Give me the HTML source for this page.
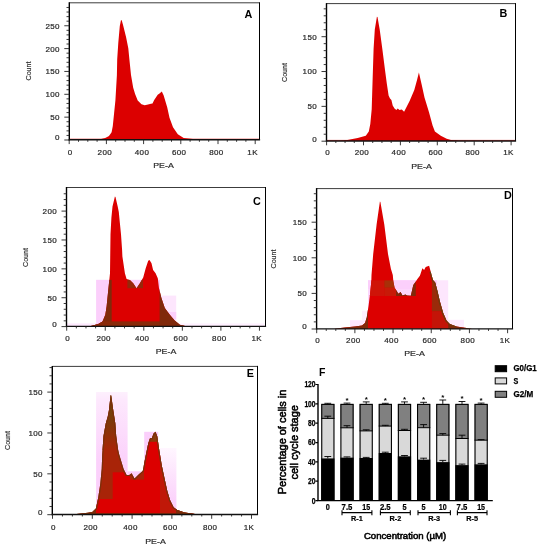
<!DOCTYPE html>
<html lang="en">
<head>
<meta charset="utf-8">
<title>Cell cycle analysis</title>
<style>
html,body{margin:0;padding:0;background:#fff;}
body{width:542px;height:550px;overflow:hidden;}
svg{display:block;font-family:"Liberation Sans",sans-serif;}
</style>
</head>
<body>
<svg width="542" height="550" viewBox="0 0 542 550">
<defs>
<clipPath id="cC"><polygon points="90.0,326.2 98.3,323.9 102.5,321.4 105.3,314.8 106.6,306.4 108.3,289.8 110.0,273.2 110.3,250.0 110.5,234.3 111.4,217.7 112.5,206.6 114.9,196.6 115.5,197.0 117.7,206.6 118.8,212.1 119.9,223.2 121.0,234.3 122.1,250.0 122.4,256.6 124.9,273.2 126.6,279.0 129.9,279.9 133.2,283.2 136.5,288.2 139.9,283.2 143.2,277.4 145.7,268.2 148.2,260.8 149.5,260.0 151.5,263.3 153.1,269.9 155.6,273.2 157.8,278.2 159.0,288.2 161.4,298.1 164.8,308.1 169.8,314.8 174.7,320.6 179.7,324.7 186.0,326.2"/></clipPath>
<clipPath id="cD"><polygon points="334.0,328.7 345.0,327.6 355.0,326.6 362.0,325.4 365.0,323.1 366.8,317.2 368.6,305.4 370.1,293.6 371.3,281.8 371.5,275.0 373.2,254.0 376.6,224.5 379.9,201.6 380.4,202.0 384.3,224.5 388.0,254.0 390.9,268.8 392.8,275.0 393.4,281.8 394.6,287.7 396.9,291.3 398.3,293.8 400.6,291.9 402.5,295.4 405.5,294.4 407.0,295.6 410.8,295.7 413.3,284.9 415.8,281.6 417.4,279.1 419.9,275.8 422.4,268.3 424.1,270.0 425.7,267.0 429.1,265.8 430.7,271.6 432.9,279.9 435.2,282.4 437.4,290.7 439.9,301.5 443.2,313.1 446.5,320.6 449.8,323.9 456.5,326.4 464.8,327.8 472.0,328.7"/></clipPath>
<clipPath id="cE"><polygon points="72.0,514.4 88.0,512.8 92.3,512.0 95.9,508.4 98.1,498.2 100.3,483.7 101.7,469.1 102.2,455.0 103.5,436.0 105.8,423.2 107.7,416.8 108.9,410.5 110.6,395.2 111.2,395.5 113.3,410.5 115.3,423.2 116.2,436.0 117.9,448.7 119.2,454.6 121.4,461.8 123.6,469.1 126.5,474.9 129.4,474.9 131.6,473.2 134.5,478.6 138.9,474.2 142.7,470.9 145.5,456.4 148.2,443.6 150.0,438.2 151.8,438.2 153.6,433.6 155.5,431.8 157.3,436.4 159.1,449.1 161.8,465.5 164.5,478.2 167.3,490.9 170.0,500.0 173.6,507.3 177.3,510.0 184.5,512.4 191.8,513.5 198.0,514.4"/></clipPath>
<linearGradient id="gP" x1="0" y1="0" x2="0" y2="1"><stop offset="0" stop-color="#fdf0fd"/><stop offset="0.07" stop-color="#fde8fd"/><stop offset="0.55" stop-color="#fbd2fb"/><stop offset="1" stop-color="#fbcefb"/></linearGradient>
<linearGradient id="gP2" x1="0" y1="0" x2="0" y2="1"><stop offset="0" stop-color="#fff6ff"/><stop offset="0.35" stop-color="#fde6fd"/><stop offset="0.8" stop-color="#fbd2fb"/></linearGradient>
<linearGradient id="gE" x1="0" y1="0" x2="0" y2="1"><stop offset="0.08" stop-color="#66480c"/><stop offset="0.5" stop-color="#7c3a0a"/><stop offset="1" stop-color="#a82408"/></linearGradient>
</defs>
<rect x="0" y="0" width="542" height="550" fill="#fff"/>
<polygon points="94.0,139.6 100.0,139.2 105.2,138.0 109.0,136.1 111.6,132.3 112.8,126.0 114.1,113.2 115.4,100.5 116.9,75.0 117.2,59.4 118.3,42.7 119.8,26.0 121.0,20.0 121.8,20.4 123.3,26.0 126.1,37.2 128.3,48.3 129.4,59.4 131.0,75.0 133.2,87.7 135.1,94.1 137.7,100.5 141.5,104.3 144.7,105.3 147.0,104.8 151.0,103.7 152.5,103.4 154.2,100.0 157.7,94.8 159.5,93.5 161.8,91.5 163.6,95.3 167.2,107.2 169.5,117.8 173.0,127.2 177.8,134.3 183.7,137.9 193.0,139.0 202.0,139.6" fill="#dc0000"/>
<line x1="70" y1="139.2" x2="260" y2="139.2" stroke="#dc0000" stroke-width="0.8"/>
<line x1="69.3" y1="2.8" x2="259.5" y2="2.8" stroke="#3c3c3c" stroke-width="1"/>
<line x1="259.5" y1="2.3" x2="259.5" y2="139.8" stroke="#000" stroke-width="1.05"/>
<line x1="69.3" y1="2.3" x2="69.3" y2="140.5" stroke="#000" stroke-width="1.4"/>
<line x1="68.7" y1="139.8" x2="260.1" y2="139.8" stroke="#111" stroke-width="1.4"/>
<path d="M69.20,139.8v4.3M78.50,139.8v2.0M87.80,139.8v2.0M97.10,139.8v2.0M106.40,139.8v4.3M115.70,139.8v2.0M125.00,139.8v2.0M134.30,139.8v2.0M143.60,139.8v4.3M152.90,139.8v2.0M162.20,139.8v2.0M171.50,139.8v2.0M180.80,139.8v4.3M190.10,139.8v2.0M199.40,139.8v2.0M208.70,139.8v2.0M218.00,139.8v4.3M227.30,139.8v2.0M236.60,139.8v2.0M245.90,139.8v2.0M255.20,139.8v4.3" stroke="#222" stroke-width="0.9" fill="none"/>
<text x="70.2" y="155.1" font-size="8" text-anchor="middle" fill="#2a2a2a" letter-spacing="0.35" stroke="#2a2a2a" stroke-width="0.22">0</text>
<text x="104.8" y="155.1" font-size="8" text-anchor="middle" fill="#2a2a2a" letter-spacing="0.35" stroke="#2a2a2a" stroke-width="0.22">200</text>
<text x="142.0" y="155.1" font-size="8" text-anchor="middle" fill="#2a2a2a" letter-spacing="0.35" stroke="#2a2a2a" stroke-width="0.22">400</text>
<text x="179.2" y="155.1" font-size="8" text-anchor="middle" fill="#2a2a2a" letter-spacing="0.35" stroke="#2a2a2a" stroke-width="0.22">600</text>
<text x="216.4" y="155.1" font-size="8" text-anchor="middle" fill="#2a2a2a" letter-spacing="0.35" stroke="#2a2a2a" stroke-width="0.22">800</text>
<text x="252.6" y="155.1" font-size="8" text-anchor="middle" fill="#2a2a2a" letter-spacing="0.35" stroke="#2a2a2a" stroke-width="0.22">1K</text>
<path d="M69.3,140.00h-5.0M69.3,135.43h-2.8M69.3,130.86h-2.8M69.3,126.29h-2.8M69.3,121.72h-2.8M69.3,117.15h-5.0M69.3,112.58h-2.8M69.3,108.01h-2.8M69.3,103.44h-2.8M69.3,98.87h-2.8M69.3,94.30h-5.0M69.3,89.73h-2.8M69.3,85.16h-2.8M69.3,80.59h-2.8M69.3,76.02h-2.8M69.3,71.45h-5.0M69.3,66.88h-2.8M69.3,62.31h-2.8M69.3,57.74h-2.8M69.3,53.17h-2.8M69.3,48.60h-5.0M69.3,44.03h-2.8M69.3,39.46h-2.8M69.3,34.89h-2.8M69.3,30.32h-2.8M69.3,25.75h-5.0M69.3,21.18h-2.8M69.3,16.61h-2.8M69.3,12.04h-2.8M69.3,7.47h-2.8" stroke="#222" stroke-width="0.9" fill="none"/>
<text x="59.8" y="140.3" font-size="8" text-anchor="end" fill="#2a2a2a" letter-spacing="0.35" stroke="#2a2a2a" stroke-width="0.22">0</text>
<text x="59.8" y="120.1" font-size="8" text-anchor="end" fill="#2a2a2a" letter-spacing="0.35" stroke="#2a2a2a" stroke-width="0.22">50</text>
<text x="59.8" y="97.2" font-size="8" text-anchor="end" fill="#2a2a2a" letter-spacing="0.35" stroke="#2a2a2a" stroke-width="0.22">100</text>
<text x="59.8" y="74.4" font-size="8" text-anchor="end" fill="#2a2a2a" letter-spacing="0.35" stroke="#2a2a2a" stroke-width="0.22">150</text>
<text x="59.8" y="51.5" font-size="8" text-anchor="end" fill="#2a2a2a" letter-spacing="0.35" stroke="#2a2a2a" stroke-width="0.22">200</text>
<text x="59.8" y="28.6" font-size="8" text-anchor="end" fill="#2a2a2a" letter-spacing="0.35" stroke="#2a2a2a" stroke-width="0.22">250</text>
<text x="30.9" y="71.0" font-size="7.5" text-anchor="middle" fill="#2a2a2a" textLength="19.0" lengthAdjust="spacingAndGlyphs" transform="rotate(-90 30.9 71.0)" stroke="#2a2a2a" stroke-width="0.15">Count</text>
<text x="163.5" y="168.3" font-size="8" text-anchor="middle" fill="#2a2a2a" textLength="20.5" lengthAdjust="spacingAndGlyphs" stroke="#2a2a2a" stroke-width="0.2">PE-A</text>
<text x="248.4" y="17.5" font-size="10.8" text-anchor="middle" fill="#000" font-weight="bold">A</text>
<polygon points="340.0,141.0 347.4,140.0 357.7,138.0 365.8,135.8 368.8,131.4 370.3,124.0 371.7,109.3 372.6,80.0 373.6,48.8 374.8,29.4 376.9,16.7 377.5,17.0 379.7,29.4 382.3,48.8 385.0,70.0 386.8,83.6 388.6,95.5 390.0,98.6 391.4,100.0 392.7,105.5 394.5,108.6 396.4,110.0 397.7,108.6 399.5,110.0 401.8,109.5 404.1,111.8 406.8,106.4 409.6,101.0 414.3,90.0 417.1,79.8 418.9,72.4 421.6,84.2 424.5,97.5 429.0,112.2 432.6,125.5 434.9,131.4 440.8,135.8 446.7,138.8 451.0,140.0 460.0,141.0" fill="#dc0000"/>
<line x1="327" y1="140.4" x2="516" y2="140.4" stroke="#dc0000" stroke-width="0.8"/>
<line x1="326.5" y1="3.6" x2="515.5" y2="3.6" stroke="#3c3c3c" stroke-width="1"/>
<line x1="515.5" y1="3.1" x2="515.5" y2="141" stroke="#000" stroke-width="1.05"/>
<line x1="326.5" y1="3.1" x2="326.5" y2="141.7" stroke="#000" stroke-width="1.4"/>
<line x1="325.9" y1="141" x2="516.1" y2="141" stroke="#111" stroke-width="1.4"/>
<path d="M326.60,141v4.3M335.83,141v2.0M345.05,141v2.0M354.28,141v2.0M363.50,141v4.3M372.73,141v2.0M381.95,141v2.0M391.18,141v2.0M400.40,141v4.3M409.62,141v2.0M418.85,141v2.0M428.08,141v2.0M437.30,141v4.3M446.53,141v2.0M455.75,141v2.0M464.98,141v2.0M474.20,141v4.3M483.43,141v2.0M492.65,141v2.0M501.88,141v2.0M511.10,141v4.3" stroke="#222" stroke-width="0.9" fill="none"/>
<text x="327.6" y="155.3" font-size="8" text-anchor="middle" fill="#2a2a2a" letter-spacing="0.35" stroke="#2a2a2a" stroke-width="0.22">0</text>
<text x="361.9" y="155.3" font-size="8" text-anchor="middle" fill="#2a2a2a" letter-spacing="0.35" stroke="#2a2a2a" stroke-width="0.22">200</text>
<text x="398.8" y="155.3" font-size="8" text-anchor="middle" fill="#2a2a2a" letter-spacing="0.35" stroke="#2a2a2a" stroke-width="0.22">400</text>
<text x="435.7" y="155.3" font-size="8" text-anchor="middle" fill="#2a2a2a" letter-spacing="0.35" stroke="#2a2a2a" stroke-width="0.22">600</text>
<text x="472.6" y="155.3" font-size="8" text-anchor="middle" fill="#2a2a2a" letter-spacing="0.35" stroke="#2a2a2a" stroke-width="0.22">800</text>
<text x="508.5" y="155.3" font-size="8" text-anchor="middle" fill="#2a2a2a" letter-spacing="0.35" stroke="#2a2a2a" stroke-width="0.22">1K</text>
<path d="M326.5,141.20h-5.0M326.5,134.23h-2.8M326.5,127.27h-2.8M326.5,120.30h-2.8M326.5,113.33h-2.8M326.5,106.37h-5.0M326.5,99.40h-2.8M326.5,92.43h-2.8M326.5,85.47h-2.8M326.5,78.50h-2.8M326.5,71.53h-5.0M326.5,64.57h-2.8M326.5,57.60h-2.8M326.5,50.63h-2.8M326.5,43.67h-2.8M326.5,36.70h-5.0M326.5,29.73h-2.8M326.5,22.77h-2.8M326.5,15.80h-2.8M326.5,8.83h-2.8" stroke="#222" stroke-width="0.9" fill="none"/>
<text x="317.0" y="141.5" font-size="8" text-anchor="end" fill="#2a2a2a" letter-spacing="0.35" stroke="#2a2a2a" stroke-width="0.22">0</text>
<text x="317.0" y="109.3" font-size="8" text-anchor="end" fill="#2a2a2a" letter-spacing="0.35" stroke="#2a2a2a" stroke-width="0.22">50</text>
<text x="317.0" y="74.4" font-size="8" text-anchor="end" fill="#2a2a2a" letter-spacing="0.35" stroke="#2a2a2a" stroke-width="0.22">100</text>
<text x="317.0" y="39.6" font-size="8" text-anchor="end" fill="#2a2a2a" letter-spacing="0.35" stroke="#2a2a2a" stroke-width="0.22">150</text>
<text x="286.9" y="72.5" font-size="7.5" text-anchor="middle" fill="#2a2a2a" textLength="19.0" lengthAdjust="spacingAndGlyphs" transform="rotate(-90 286.9 72.5)" stroke="#2a2a2a" stroke-width="0.15">Count</text>
<text x="421.5" y="168.8" font-size="8" text-anchor="middle" fill="#2a2a2a" textLength="20.5" lengthAdjust="spacingAndGlyphs" stroke="#2a2a2a" stroke-width="0.2">PE-A</text>
<text x="503.3" y="16.6" font-size="10.8" text-anchor="middle" fill="#000" font-weight="bold">B</text>
<rect x="96.1" y="279.8" width="63.9" height="46.4" fill="#fbcffb"/>
<rect x="160.0" y="295.6" width="16.2" height="30.6" fill="#fde6fd"/>
<rect x="160.0" y="312.0" width="16.2" height="7.4" fill="#fbcffb"/>
<rect x="67.0" y="323.4" width="29.1" height="2.8" fill="#fde8fd"/>
<rect x="176.2" y="323.4" width="88.3" height="2.8" fill="#fff0ff"/>
<g clip-path="url(#cC)">
<rect x="60.0" y="190.0" width="140.0" height="140.0" fill="#dc0000"/>
<rect x="90.0" y="279.9" width="21.7" height="47.1" fill="#80290a"/>
<rect x="90.0" y="321.4" width="100.0" height="5.6" fill="#8a2a0a"/>
<rect x="127.4" y="279.9" width="15.6" height="8.3" fill="#96280a"/>
<rect x="159.6" y="279.9" width="30.4" height="47.1" fill="#80290a"/>
</g>
<line x1="66.5" y1="187.5" x2="265.5" y2="187.5" stroke="#3c3c3c" stroke-width="1"/>
<line x1="265.5" y1="187.0" x2="265.5" y2="326.4" stroke="#000" stroke-width="1.05"/>
<line x1="66.5" y1="187.0" x2="66.5" y2="327.09999999999997" stroke="#000" stroke-width="1.4"/>
<line x1="65.9" y1="326.4" x2="266.1" y2="326.4" stroke="#111" stroke-width="1.4"/>
<path d="M66.70,326.4v4.3M76.34,326.4v2.0M85.97,326.4v2.0M95.61,326.4v2.0M105.25,326.4v4.3M114.89,326.4v2.0M124.53,326.4v2.0M134.16,326.4v2.0M143.80,326.4v4.3M153.44,326.4v2.0M163.07,326.4v2.0M172.71,326.4v2.0M182.35,326.4v4.3M191.99,326.4v2.0M201.62,326.4v2.0M211.26,326.4v2.0M220.90,326.4v4.3M230.54,326.4v2.0M240.18,326.4v2.0M249.81,326.4v2.0M259.45,326.4v4.3" stroke="#222" stroke-width="0.9" fill="none"/>
<text x="67.7" y="340.9" font-size="8" text-anchor="middle" fill="#2a2a2a" letter-spacing="0.35" stroke="#2a2a2a" stroke-width="0.22">0</text>
<text x="103.7" y="340.9" font-size="8" text-anchor="middle" fill="#2a2a2a" letter-spacing="0.35" stroke="#2a2a2a" stroke-width="0.22">200</text>
<text x="142.2" y="340.9" font-size="8" text-anchor="middle" fill="#2a2a2a" letter-spacing="0.35" stroke="#2a2a2a" stroke-width="0.22">400</text>
<text x="180.8" y="340.9" font-size="8" text-anchor="middle" fill="#2a2a2a" letter-spacing="0.35" stroke="#2a2a2a" stroke-width="0.22">600</text>
<text x="219.3" y="340.9" font-size="8" text-anchor="middle" fill="#2a2a2a" letter-spacing="0.35" stroke="#2a2a2a" stroke-width="0.22">800</text>
<text x="256.8" y="340.9" font-size="8" text-anchor="middle" fill="#2a2a2a" letter-spacing="0.35" stroke="#2a2a2a" stroke-width="0.22">1K</text>
<path d="M66.5,326.60h-5.0M66.5,320.83h-2.8M66.5,315.05h-2.8M66.5,309.28h-2.8M66.5,303.50h-2.8M66.5,297.73h-5.0M66.5,291.95h-2.8M66.5,286.18h-2.8M66.5,280.40h-2.8M66.5,274.62h-2.8M66.5,268.85h-5.0M66.5,263.07h-2.8M66.5,257.30h-2.8M66.5,251.53h-2.8M66.5,245.75h-2.8M66.5,239.98h-5.0M66.5,234.20h-2.8M66.5,228.43h-2.8M66.5,222.65h-2.8M66.5,216.88h-2.8M66.5,211.10h-5.0M66.5,205.32h-2.8M66.5,199.55h-2.8M66.5,193.78h-2.8" stroke="#222" stroke-width="0.9" fill="none"/>
<text x="57.0" y="326.9" font-size="8" text-anchor="end" fill="#2a2a2a" letter-spacing="0.35" stroke="#2a2a2a" stroke-width="0.22">0</text>
<text x="57.0" y="300.6" font-size="8" text-anchor="end" fill="#2a2a2a" letter-spacing="0.35" stroke="#2a2a2a" stroke-width="0.22">50</text>
<text x="57.0" y="271.8" font-size="8" text-anchor="end" fill="#2a2a2a" letter-spacing="0.35" stroke="#2a2a2a" stroke-width="0.22">100</text>
<text x="57.0" y="242.9" font-size="8" text-anchor="end" fill="#2a2a2a" letter-spacing="0.35" stroke="#2a2a2a" stroke-width="0.22">150</text>
<text x="57.0" y="214.0" font-size="8" text-anchor="end" fill="#2a2a2a" letter-spacing="0.35" stroke="#2a2a2a" stroke-width="0.22">200</text>
<text x="28.2" y="257.5" font-size="7.5" text-anchor="middle" fill="#2a2a2a" textLength="19.0" lengthAdjust="spacingAndGlyphs" transform="rotate(-90 28.2 257.5)" stroke="#2a2a2a" stroke-width="0.15">Count</text>
<text x="166.0" y="353.7" font-size="8" text-anchor="middle" fill="#2a2a2a" textLength="20.5" lengthAdjust="spacingAndGlyphs" stroke="#2a2a2a" stroke-width="0.2">PE-A</text>
<text x="256.8" y="205.2" font-size="10.8" text-anchor="middle" fill="#000" font-weight="bold">C</text>
<rect x="368.0" y="280.3" width="69.0" height="48.4" fill="#fcd6fc"/>
<rect x="368.0" y="280.3" width="69.0" height="8.7" fill="#fbcffb"/>
<rect x="437.0" y="280.3" width="11.2" height="48.4" fill="#fde6fd"/>
<rect x="448.2" y="319.8" width="15.8" height="8.9" fill="#fdeafd"/>
<rect x="350.0" y="320.2" width="18.0" height="8.5" fill="#fde6fd"/>
<rect x="362.0" y="310.7" width="6.0" height="9.5" fill="#fef0fe"/>
<g clip-path="url(#cD)">
<rect x="330.0" y="195.0" width="150.0" height="135.0" fill="#dc0000"/>
<rect x="330.0" y="300.0" width="38.0" height="30.0" fill="#80290a"/>
<rect x="368.0" y="280.4" width="16.3" height="15.6" fill="#cf1408"/>
<rect x="384.3" y="280.4" width="11.7" height="7.4" fill="#a83008"/>
<rect x="384.3" y="287.8" width="11.7" height="8.2" fill="#c81a08"/>
<rect x="396.0" y="280.4" width="19.8" height="15.6" fill="#80290a"/>
<rect x="431.9" y="260.0" width="16.3" height="51.5" fill="#9a2a0a"/>
<rect x="431.9" y="311.5" width="16.3" height="18.5" fill="#c41408"/>
<rect x="448.2" y="300.0" width="31.8" height="30.0" fill="#80290a"/>
<polyline points="430.7,271.6 432.9,279.9 435.2,282.4 437.4,290.7 439.9,301.5 443.2,313.1 446.5,320.6 449.8,323.9 456.5,326.4" fill="none" stroke="#6e3a0a" stroke-width="2.6"/>
</g>
<line x1="316.6" y1="188.6" x2="512.5" y2="188.6" stroke="#3c3c3c" stroke-width="1"/>
<line x1="512.5" y1="188.1" x2="512.5" y2="328.9" stroke="#000" stroke-width="1.05"/>
<line x1="316.6" y1="188.1" x2="316.6" y2="329.59999999999997" stroke="#000" stroke-width="1.4"/>
<line x1="316.0" y1="328.9" x2="513.1" y2="328.9" stroke="#111" stroke-width="1.4"/>
<path d="M316.70,328.9v4.3M326.25,328.9v2.0M335.79,328.9v2.0M345.33,328.9v2.0M354.88,328.9v4.3M364.43,328.9v2.0M373.97,328.9v2.0M383.51,328.9v2.0M393.06,328.9v4.3M402.61,328.9v2.0M412.15,328.9v2.0M421.69,328.9v2.0M431.24,328.9v4.3M440.78,328.9v2.0M450.33,328.9v2.0M459.88,328.9v2.0M469.42,328.9v4.3M478.96,328.9v2.0M488.51,328.9v2.0M498.05,328.9v2.0M507.60,328.9v4.3" stroke="#222" stroke-width="0.9" fill="none"/>
<text x="317.7" y="342.8" font-size="8" text-anchor="middle" fill="#2a2a2a" letter-spacing="0.35" stroke="#2a2a2a" stroke-width="0.22">0</text>
<text x="353.3" y="342.8" font-size="8" text-anchor="middle" fill="#2a2a2a" letter-spacing="0.35" stroke="#2a2a2a" stroke-width="0.22">200</text>
<text x="391.5" y="342.8" font-size="8" text-anchor="middle" fill="#2a2a2a" letter-spacing="0.35" stroke="#2a2a2a" stroke-width="0.22">400</text>
<text x="429.6" y="342.8" font-size="8" text-anchor="middle" fill="#2a2a2a" letter-spacing="0.35" stroke="#2a2a2a" stroke-width="0.22">600</text>
<text x="467.8" y="342.8" font-size="8" text-anchor="middle" fill="#2a2a2a" letter-spacing="0.35" stroke="#2a2a2a" stroke-width="0.22">800</text>
<text x="505.0" y="342.8" font-size="8" text-anchor="middle" fill="#2a2a2a" letter-spacing="0.35" stroke="#2a2a2a" stroke-width="0.22">1K</text>
<path d="M316.6,329.00h-5.0M316.6,321.88h-2.8M316.6,314.76h-2.8M316.6,307.64h-2.8M316.6,300.52h-2.8M316.6,293.40h-5.0M316.6,286.28h-2.8M316.6,279.16h-2.8M316.6,272.04h-2.8M316.6,264.92h-2.8M316.6,257.80h-5.0M316.6,250.68h-2.8M316.6,243.56h-2.8M316.6,236.44h-2.8M316.6,229.32h-2.8M316.6,222.20h-5.0M316.6,215.08h-2.8M316.6,207.96h-2.8M316.6,200.84h-2.8M316.6,193.72h-2.8" stroke="#222" stroke-width="0.9" fill="none"/>
<text x="307.1" y="329.3" font-size="8" text-anchor="end" fill="#2a2a2a" letter-spacing="0.35" stroke="#2a2a2a" stroke-width="0.22">0</text>
<text x="307.1" y="296.3" font-size="8" text-anchor="end" fill="#2a2a2a" letter-spacing="0.35" stroke="#2a2a2a" stroke-width="0.22">50</text>
<text x="307.1" y="260.7" font-size="8" text-anchor="end" fill="#2a2a2a" letter-spacing="0.35" stroke="#2a2a2a" stroke-width="0.22">100</text>
<text x="307.1" y="225.1" font-size="8" text-anchor="end" fill="#2a2a2a" letter-spacing="0.35" stroke="#2a2a2a" stroke-width="0.22">150</text>
<text x="275.6" y="259.0" font-size="7.5" text-anchor="middle" fill="#2a2a2a" textLength="19.0" lengthAdjust="spacingAndGlyphs" transform="rotate(-90 275.6 259.0)" stroke="#2a2a2a" stroke-width="0.15">Count</text>
<text x="414.5" y="355.7" font-size="8" text-anchor="middle" fill="#2a2a2a" textLength="20.5" lengthAdjust="spacingAndGlyphs" stroke="#2a2a2a" stroke-width="0.2">PE-A</text>
<text x="507.9" y="198.9" font-size="10.8" text-anchor="middle" fill="#000" font-weight="bold">D</text>
<rect x="96.1" y="392" width="31.5" height="122.4" fill="url(#gP)"/>
<rect x="127.6" y="471.3" width="16.6" height="43.1" fill="#fbcffb"/>
<rect x="144.2" y="431.8" width="14.0" height="82.6" fill="#fbcffb"/>
<rect x="158.2" y="448" width="18.2" height="66.4" fill="url(#gP2)"/>
<g clip-path="url(#cE)">
<rect x="60.0" y="390.0" width="150.0" height="126.0" fill="#a82408"/>
<rect x="100" y="390" width="25" height="60" fill="url(#gE)"/>
<rect x="144.0" y="428.0" width="16.0" height="14.0" fill="#8a3a0a"/>
<rect x="112.7" y="472.3" width="17.3" height="43.7" fill="#dc0000"/>
<rect x="128.0" y="479.6" width="17.0" height="36.4" fill="#dc0000"/>
<rect x="144.0" y="441.8" width="16.0" height="74.2" fill="#dc0000"/>
<rect x="96.0" y="499.0" width="64.0" height="17.0" fill="#dc0000"/>
<rect x="160.0" y="440.0" width="50.0" height="76.0" fill="#c01808"/>
<rect x="60.0" y="500.0" width="36.0" height="16.0" fill="#80290a"/>
<rect x="176.0" y="470.0" width="34.0" height="46.0" fill="#80290a"/>
<polygon points="72.0,514.4 88.0,512.8 92.3,512.0 95.9,508.4 98.1,498.2 100.3,483.7 101.7,469.1 102.2,455.0 103.5,436.0 105.8,423.2 107.7,416.8 108.9,410.5 110.6,395.2 111.2,395.5 113.3,410.5 115.3,423.2 116.2,436.0 117.9,448.7 119.2,454.6 121.4,461.8 123.6,469.1 126.5,474.9 129.4,474.9 131.6,473.2 134.5,478.6 138.9,474.2 142.7,470.9 145.5,456.4 148.2,443.6 150.0,438.2 151.8,438.2 153.6,433.6 155.5,431.8 157.3,436.4 159.1,449.1 161.8,465.5 164.5,478.2 167.3,490.9 170.0,500.0 173.6,507.3 177.3,510.0 184.5,512.4 191.8,513.5 198.0,514.4" fill="none" stroke="#7a300a" stroke-width="2.4" stroke-linejoin="round"/>
</g>
<line x1="52.3" y1="366.4" x2="257.5" y2="366.4" stroke="#3c3c3c" stroke-width="1"/>
<line x1="257.5" y1="365.9" x2="257.5" y2="514.5" stroke="#000" stroke-width="1.05"/>
<line x1="52.3" y1="365.9" x2="52.3" y2="515.2" stroke="#000" stroke-width="1.4"/>
<line x1="51.699999999999996" y1="514.5" x2="258.1" y2="514.5" stroke="#111" stroke-width="1.4"/>
<path d="M52.50,514.5v4.3M62.45,514.5v2.0M72.40,514.5v2.0M82.35,514.5v2.0M92.30,514.5v4.3M102.25,514.5v2.0M112.20,514.5v2.0M122.15,514.5v2.0M132.10,514.5v4.3M142.05,514.5v2.0M152.00,514.5v2.0M161.95,514.5v2.0M171.90,514.5v4.3M181.85,514.5v2.0M191.80,514.5v2.0M201.75,514.5v2.0M211.70,514.5v4.3M221.65,514.5v2.0M231.60,514.5v2.0M241.55,514.5v2.0M251.50,514.5v4.3" stroke="#222" stroke-width="0.9" fill="none"/>
<text x="53.5" y="529.5" font-size="8" text-anchor="middle" fill="#2a2a2a" letter-spacing="0.35" stroke="#2a2a2a" stroke-width="0.22">0</text>
<text x="90.7" y="529.5" font-size="8" text-anchor="middle" fill="#2a2a2a" letter-spacing="0.35" stroke="#2a2a2a" stroke-width="0.22">200</text>
<text x="130.5" y="529.5" font-size="8" text-anchor="middle" fill="#2a2a2a" letter-spacing="0.35" stroke="#2a2a2a" stroke-width="0.22">400</text>
<text x="170.3" y="529.5" font-size="8" text-anchor="middle" fill="#2a2a2a" letter-spacing="0.35" stroke="#2a2a2a" stroke-width="0.22">600</text>
<text x="210.1" y="529.5" font-size="8" text-anchor="middle" fill="#2a2a2a" letter-spacing="0.35" stroke="#2a2a2a" stroke-width="0.22">800</text>
<text x="248.9" y="529.5" font-size="8" text-anchor="middle" fill="#2a2a2a" letter-spacing="0.35" stroke="#2a2a2a" stroke-width="0.22">1K</text>
<path d="M52.3,514.70h-5.0M52.3,506.53h-2.8M52.3,498.35h-2.8M52.3,490.18h-2.8M52.3,482.01h-2.8M52.3,473.83h-5.0M52.3,465.66h-2.8M52.3,457.49h-2.8M52.3,449.31h-2.8M52.3,441.14h-2.8M52.3,432.97h-5.0M52.3,424.79h-2.8M52.3,416.62h-2.8M52.3,408.45h-2.8M52.3,400.27h-2.8M52.3,392.10h-5.0M52.3,383.93h-2.8M52.3,375.75h-2.8M52.3,367.58h-2.8" stroke="#222" stroke-width="0.9" fill="none"/>
<text x="42.8" y="515.0" font-size="8" text-anchor="end" fill="#2a2a2a" letter-spacing="0.35" stroke="#2a2a2a" stroke-width="0.22">0</text>
<text x="42.8" y="476.7" font-size="8" text-anchor="end" fill="#2a2a2a" letter-spacing="0.35" stroke="#2a2a2a" stroke-width="0.22">50</text>
<text x="42.8" y="435.9" font-size="8" text-anchor="end" fill="#2a2a2a" letter-spacing="0.35" stroke="#2a2a2a" stroke-width="0.22">100</text>
<text x="42.8" y="395.0" font-size="8" text-anchor="end" fill="#2a2a2a" letter-spacing="0.35" stroke="#2a2a2a" stroke-width="0.22">150</text>
<text x="10.2" y="440.5" font-size="7.5" text-anchor="middle" fill="#2a2a2a" textLength="19.0" lengthAdjust="spacingAndGlyphs" transform="rotate(-90 10.2 440.5)" stroke="#2a2a2a" stroke-width="0.15">Count</text>
<text x="155.5" y="543.7" font-size="8" text-anchor="middle" fill="#2a2a2a" textLength="20.5" lengthAdjust="spacingAndGlyphs" stroke="#2a2a2a" stroke-width="0.2">PE-A</text>
<text x="250.3" y="377.1" font-size="10.8" text-anchor="middle" fill="#000" font-weight="bold">E</text>
<rect x="321.2" y="403.9" width="13.3" height="14.5" fill="#808080"/>
<rect x="321.2" y="418.4" width="13.3" height="40.1" fill="#d9d9d9"/>
<rect x="321.2" y="458.4" width="13.3" height="42.2" fill="#000"/>
<rect x="321.75" y="404.40" width="12.20" height="95.65" fill="none" stroke="#000" stroke-width="1.1"/>
<line x1="321.2" y1="418.4" x2="334.5" y2="418.4" stroke="#000" stroke-width="1.0"/>
<path d="M327.8,403.9V403.3M324.4,403.3h6.8" stroke="#000" stroke-width="0.9" fill="none"/>
<path d="M327.8,418.4V416.2M324.4,416.2h6.8" stroke="#000" stroke-width="0.9" fill="none"/>
<path d="M327.8,458.4V456.5M324.4,456.5h6.8" stroke="#000" stroke-width="0.9" fill="none"/>
<rect x="340.4" y="403.9" width="13.3" height="24.0" fill="#808080"/>
<rect x="340.4" y="427.8" width="13.3" height="29.8" fill="#d9d9d9"/>
<rect x="340.4" y="457.6" width="13.3" height="43.0" fill="#000"/>
<rect x="340.91" y="404.40" width="12.20" height="95.65" fill="none" stroke="#000" stroke-width="1.1"/>
<line x1="340.4" y1="427.8" x2="353.7" y2="427.8" stroke="#000" stroke-width="1.0"/>
<path d="M347.0,403.9V403.1M343.6,403.1h6.8" stroke="#000" stroke-width="0.9" fill="none"/>
<path d="M347.0,427.8V425.7M343.6,425.7h6.8" stroke="#000" stroke-width="0.9" fill="none"/>
<path d="M347.0,457.6V456.9M343.6,456.9h6.8" stroke="#000" stroke-width="0.9" fill="none"/>
<text x="347.0" y="402.9" font-size="8" text-anchor="middle" fill="#000" font-weight="bold">*</text>
<rect x="359.5" y="403.9" width="13.3" height="27.1" fill="#808080"/>
<rect x="359.5" y="430.9" width="13.3" height="27.1" fill="#d9d9d9"/>
<rect x="359.5" y="458.0" width="13.3" height="42.6" fill="#000"/>
<rect x="360.07" y="404.40" width="12.20" height="95.65" fill="none" stroke="#000" stroke-width="1.1"/>
<line x1="359.5" y1="430.9" x2="372.8" y2="430.9" stroke="#000" stroke-width="1.0"/>
<path d="M366.2,403.9V401.9M362.8,401.9h6.8" stroke="#000" stroke-width="0.9" fill="none"/>
<path d="M366.2,430.9V429.8M362.8,429.8h6.8" stroke="#000" stroke-width="0.9" fill="none"/>
<path d="M366.2,458.0V457.4M362.8,457.4h6.8" stroke="#000" stroke-width="0.9" fill="none"/>
<text x="366.2" y="401.7" font-size="8" text-anchor="middle" fill="#000" font-weight="bold">*</text>
<rect x="378.7" y="403.9" width="13.3" height="22.3" fill="#808080"/>
<rect x="378.7" y="426.1" width="13.3" height="26.9" fill="#d9d9d9"/>
<rect x="378.7" y="453.0" width="13.3" height="47.6" fill="#000"/>
<rect x="379.23" y="404.40" width="12.20" height="95.65" fill="none" stroke="#000" stroke-width="1.1"/>
<line x1="378.7" y1="426.1" x2="392.0" y2="426.1" stroke="#000" stroke-width="1.0"/>
<path d="M385.3,403.9V403.3M381.9,403.3h6.8" stroke="#000" stroke-width="0.9" fill="none"/>
<path d="M385.3,426.1V425.3M381.9,425.3h6.8" stroke="#000" stroke-width="0.9" fill="none"/>
<path d="M385.3,453.0V452.2M381.9,452.2h6.8" stroke="#000" stroke-width="0.9" fill="none"/>
<text x="385.3" y="403.1" font-size="8" text-anchor="middle" fill="#000" font-weight="bold">*</text>
<rect x="397.8" y="403.9" width="13.3" height="26.6" fill="#808080"/>
<rect x="397.8" y="430.5" width="13.3" height="25.8" fill="#d9d9d9"/>
<rect x="397.8" y="456.3" width="13.3" height="44.3" fill="#000"/>
<rect x="398.39" y="404.40" width="12.20" height="95.65" fill="none" stroke="#000" stroke-width="1.1"/>
<line x1="397.8" y1="430.5" x2="411.1" y2="430.5" stroke="#000" stroke-width="1.0"/>
<path d="M404.5,403.9V401.9M401.1,401.9h6.8" stroke="#000" stroke-width="0.9" fill="none"/>
<path d="M404.5,430.5V429.3M401.1,429.3h6.8" stroke="#000" stroke-width="0.9" fill="none"/>
<path d="M404.5,456.3V455.5M401.1,455.5h6.8" stroke="#000" stroke-width="0.9" fill="none"/>
<text x="404.5" y="401.7" font-size="8" text-anchor="middle" fill="#000" font-weight="bold">*</text>
<rect x="417.0" y="403.9" width="13.3" height="23.8" fill="#808080"/>
<rect x="417.0" y="427.7" width="13.3" height="31.9" fill="#d9d9d9"/>
<rect x="417.0" y="459.6" width="13.3" height="41.0" fill="#000"/>
<rect x="417.55" y="404.40" width="12.20" height="95.65" fill="none" stroke="#000" stroke-width="1.1"/>
<line x1="417.0" y1="427.7" x2="430.3" y2="427.7" stroke="#000" stroke-width="1.0"/>
<path d="M423.6,403.9V402.3M420.2,402.3h6.8" stroke="#000" stroke-width="0.9" fill="none"/>
<path d="M423.6,427.7V424.6M420.2,424.6h6.8" stroke="#000" stroke-width="0.9" fill="none"/>
<path d="M423.6,459.6V458.2M420.2,458.2h6.8" stroke="#000" stroke-width="0.9" fill="none"/>
<text x="423.6" y="402.1" font-size="8" text-anchor="middle" fill="#000" font-weight="bold">*</text>
<rect x="436.2" y="403.9" width="13.3" height="31.3" fill="#808080"/>
<rect x="436.2" y="435.2" width="13.3" height="26.9" fill="#d9d9d9"/>
<rect x="436.2" y="462.1" width="13.3" height="38.5" fill="#000"/>
<rect x="436.71" y="404.40" width="12.20" height="95.65" fill="none" stroke="#000" stroke-width="1.1"/>
<line x1="436.2" y1="435.2" x2="449.5" y2="435.2" stroke="#000" stroke-width="1.0"/>
<path d="M442.8,403.9V400.0M439.4,400.0h6.8" stroke="#000" stroke-width="0.9" fill="none"/>
<path d="M442.8,435.2V433.6M439.4,433.6h6.8" stroke="#000" stroke-width="0.9" fill="none"/>
<path d="M442.8,462.1V460.4M439.4,460.4h6.8" stroke="#000" stroke-width="0.9" fill="none"/>
<text x="442.8" y="399.8" font-size="8" text-anchor="middle" fill="#000" font-weight="bold">*</text>
<rect x="455.3" y="403.9" width="13.3" height="34.6" fill="#808080"/>
<rect x="455.3" y="438.5" width="13.3" height="26.6" fill="#d9d9d9"/>
<rect x="455.3" y="465.1" width="13.3" height="35.5" fill="#000"/>
<rect x="455.87" y="404.40" width="12.20" height="95.65" fill="none" stroke="#000" stroke-width="1.1"/>
<line x1="455.3" y1="438.5" x2="468.6" y2="438.5" stroke="#000" stroke-width="1.0"/>
<path d="M462.0,403.9V401.5M458.6,401.5h6.8" stroke="#000" stroke-width="0.9" fill="none"/>
<path d="M462.0,438.5V435.2M458.6,435.2h6.8" stroke="#000" stroke-width="0.9" fill="none"/>
<path d="M462.0,465.1V464.1M458.6,464.1h6.8" stroke="#000" stroke-width="0.9" fill="none"/>
<text x="462.0" y="401.3" font-size="8" text-anchor="middle" fill="#000" font-weight="bold">*</text>
<rect x="474.5" y="403.9" width="13.3" height="36.4" fill="#808080"/>
<rect x="474.5" y="440.2" width="13.3" height="24.1" fill="#d9d9d9"/>
<rect x="474.5" y="464.3" width="13.3" height="36.3" fill="#000"/>
<rect x="475.03" y="404.40" width="12.20" height="95.65" fill="none" stroke="#000" stroke-width="1.1"/>
<line x1="474.5" y1="440.2" x2="487.8" y2="440.2" stroke="#000" stroke-width="1.0"/>
<path d="M481.1,403.9V403.1M477.7,403.1h6.8" stroke="#000" stroke-width="0.9" fill="none"/>
<path d="M481.1,440.2V439.6M477.7,439.6h6.8" stroke="#000" stroke-width="0.9" fill="none"/>
<path d="M481.1,464.3V463.4M477.7,463.4h6.8" stroke="#000" stroke-width="0.9" fill="none"/>
<text x="481.1" y="402.9" font-size="8" text-anchor="middle" fill="#000" font-weight="bold">*</text>
<path d="M318,383.9V501.3M317.3,500.6H492.8" stroke="#000" stroke-width="1.4" fill="none"/>
<path d="M318,500.6h-2.6M318,481.2h-2.6M318,461.9h-2.6M318,442.6h-2.6M318,423.2h-2.6M318,403.9h-2.6M318,384.5h-2.6" stroke="#000" stroke-width="1.2" fill="none"/>
<text x="315.6" y="503.5" font-size="8.2" text-anchor="end" fill="#000" font-weight="bold" textLength="3.8" lengthAdjust="spacingAndGlyphs" stroke="#000" stroke-width="0.25">0</text>
<text x="315.6" y="484.1" font-size="8.2" text-anchor="end" fill="#000" font-weight="bold" textLength="7.5" lengthAdjust="spacingAndGlyphs" stroke="#000" stroke-width="0.25">20</text>
<text x="315.6" y="464.8" font-size="8.2" text-anchor="end" fill="#000" font-weight="bold" textLength="7.5" lengthAdjust="spacingAndGlyphs" stroke="#000" stroke-width="0.25">40</text>
<text x="315.6" y="445.4" font-size="8.2" text-anchor="end" fill="#000" font-weight="bold" textLength="7.5" lengthAdjust="spacingAndGlyphs" stroke="#000" stroke-width="0.25">60</text>
<text x="315.6" y="426.1" font-size="8.2" text-anchor="end" fill="#000" font-weight="bold" textLength="7.5" lengthAdjust="spacingAndGlyphs" stroke="#000" stroke-width="0.25">80</text>
<text x="315.6" y="406.8" font-size="8.2" text-anchor="end" fill="#000" font-weight="bold" textLength="11.2" lengthAdjust="spacingAndGlyphs" stroke="#000" stroke-width="0.25">100</text>
<text x="315.6" y="387.4" font-size="8.2" text-anchor="end" fill="#000" font-weight="bold" textLength="11.2" lengthAdjust="spacingAndGlyphs" stroke="#000" stroke-width="0.25">120</text>
<text x="327.8" y="510.3" font-size="8.4" text-anchor="middle" fill="#000" font-weight="bold" textLength="4.1" lengthAdjust="spacingAndGlyphs" stroke="#000" stroke-width="0.2">0</text>
<text x="347.0" y="510.3" font-size="8.4" text-anchor="middle" fill="#000" font-weight="bold" textLength="10.8" lengthAdjust="spacingAndGlyphs" stroke="#000" stroke-width="0.2">7.5</text>
<text x="366.2" y="510.3" font-size="8.4" text-anchor="middle" fill="#000" font-weight="bold" textLength="7.9" lengthAdjust="spacingAndGlyphs" stroke="#000" stroke-width="0.2">15</text>
<text x="385.3" y="510.3" font-size="8.4" text-anchor="middle" fill="#000" font-weight="bold" textLength="10.8" lengthAdjust="spacingAndGlyphs" stroke="#000" stroke-width="0.2">2.5</text>
<text x="404.5" y="510.3" font-size="8.4" text-anchor="middle" fill="#000" font-weight="bold" textLength="4.1" lengthAdjust="spacingAndGlyphs" stroke="#000" stroke-width="0.2">5</text>
<text x="423.6" y="510.3" font-size="8.4" text-anchor="middle" fill="#000" font-weight="bold" textLength="4.1" lengthAdjust="spacingAndGlyphs" stroke="#000" stroke-width="0.2">5</text>
<text x="442.8" y="510.3" font-size="8.4" text-anchor="middle" fill="#000" font-weight="bold" textLength="7.9" lengthAdjust="spacingAndGlyphs" stroke="#000" stroke-width="0.2">10</text>
<text x="462.0" y="510.3" font-size="8.4" text-anchor="middle" fill="#000" font-weight="bold" textLength="10.8" lengthAdjust="spacingAndGlyphs" stroke="#000" stroke-width="0.2">7.5</text>
<text x="481.1" y="510.3" font-size="8.4" text-anchor="middle" fill="#000" font-weight="bold" textLength="7.9" lengthAdjust="spacingAndGlyphs" stroke="#000" stroke-width="0.2">15</text>
<path d="M342,510.2v5M371.9,510.2v5M342,512.6H371.9" stroke="#000" stroke-width="1.1" fill="none"/>
<text x="356.9" y="520.6" font-size="7.8" text-anchor="middle" fill="#000" font-weight="bold" textLength="11.8" lengthAdjust="spacingAndGlyphs" stroke="#000" stroke-width="0.2">R-1</text>
<path d="M380.4,510.2v5M410.3,510.2v5M380.4,512.6H410.3" stroke="#000" stroke-width="1.1" fill="none"/>
<text x="395.4" y="520.6" font-size="7.8" text-anchor="middle" fill="#000" font-weight="bold" textLength="11.8" lengthAdjust="spacingAndGlyphs" stroke="#000" stroke-width="0.2">R-2</text>
<path d="M418,510.2v5M450.4,510.2v5M418,512.6H450.4" stroke="#000" stroke-width="1.1" fill="none"/>
<text x="434.2" y="520.6" font-size="7.8" text-anchor="middle" fill="#000" font-weight="bold" textLength="11.8" lengthAdjust="spacingAndGlyphs" stroke="#000" stroke-width="0.2">R-3</text>
<path d="M457.4,510.2v5M487,510.2v5M457.4,512.6H487" stroke="#000" stroke-width="1.1" fill="none"/>
<text x="472.2" y="520.6" font-size="7.8" text-anchor="middle" fill="#000" font-weight="bold" textLength="11.8" lengthAdjust="spacingAndGlyphs" stroke="#000" stroke-width="0.2">R-5</text>
<text x="322.2" y="376.4" font-size="10.5" text-anchor="middle" fill="#000" font-weight="bold">F</text>
<text x="405.1" y="539.3" font-size="9.6" text-anchor="middle" fill="#000" textLength="82.4" lengthAdjust="spacingAndGlyphs" stroke="#000" stroke-width="0.55">Concentration (µM)</text>
<text x="285.7" y="441.9" font-size="10.5" text-anchor="middle" fill="#000" textLength="104.6" lengthAdjust="spacingAndGlyphs" transform="rotate(-90 285.7 441.9)" stroke="#000" stroke-width="0.55">Percentage of cells in</text>
<text x="297.8" y="442.3" font-size="10.5" text-anchor="middle" fill="#000" textLength="74.4" lengthAdjust="spacingAndGlyphs" transform="rotate(-90 297.8 442.3)" stroke="#000" stroke-width="0.55">cell cycle stage</text>
<rect x="495.2" y="365.7" width="11.4" height="6" fill="#000" stroke="#000" stroke-width="1"/>
<text x="513.5" y="371.3" font-size="8.2" text-anchor="start" fill="#000" font-weight="bold" textLength="23.2" lengthAdjust="spacingAndGlyphs" stroke="#000" stroke-width="0.25">G0/G1</text>
<rect x="495.2" y="377.9" width="11.4" height="6" fill="#d9d9d9" stroke="#000" stroke-width="1"/>
<text x="513.5" y="383.8" font-size="8.2" text-anchor="start" fill="#000" font-weight="bold" textLength="4.8" lengthAdjust="spacingAndGlyphs" stroke="#000" stroke-width="0.25">S</text>
<rect x="495.2" y="391.3" width="11.4" height="6" fill="#808080" stroke="#000" stroke-width="1"/>
<text x="513.5" y="397.1" font-size="8.2" text-anchor="start" fill="#000" font-weight="bold" textLength="19.8" lengthAdjust="spacingAndGlyphs" stroke="#000" stroke-width="0.25">G2/M</text>
</svg>
</body>
</html>
